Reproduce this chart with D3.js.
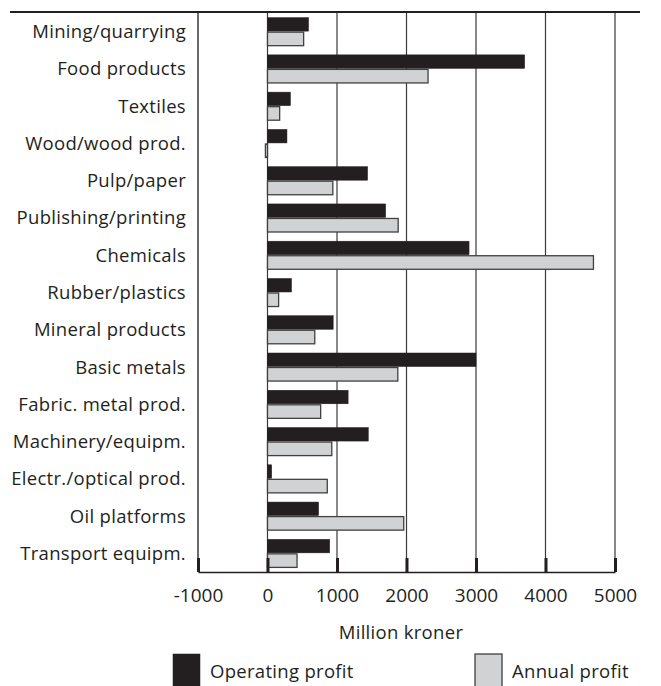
<!DOCTYPE html>
<html>
<head>
<meta charset="utf-8">
<script src="https://cdn.jsdelivr.net/npm/d3@7"></script>
<style>
  body { margin: 0; background: #fff; }
  text { font-family: "Open Sans", sans-serif; fill: #231f20; }
</style>
</head>
<body>
<div id="chart"></div>
<script>
// Chart data
const categories = [
  "Mining/quarrying",
  "Food products",
  "Textiles",
  "Wood/wood prod.",
  "Pulp/paper",
  "Publishing/printing",
  "Chemicals",
  "Rubber/plastics",
  "Mineral products",
  "Basic metals",
  "Fabric. metal prod.",
  "Machinery/equipm.",
  "Electr./optical prod.",
  "Oil platforms",
  "Transport equipm.",
];
const operatingProfit = [590, 3700, 330, 280, 1440, 1700, 2900, 345, 945, 3000, 1160, 1450, 60, 735, 895];
const annualProfit = [520, 2310, 175, -30, 940, 1880, 4690, 160, 680, 1875, 765, 925, 860, 1960, 425];
const seriesNames = ["Operating profit", "Annual profit"];
const xTicks = [-1000, 0, 1000, 2000, 3000, 4000, 5000];

// Plot constants
const W = 661, H = 686;
const PLOT = {LEFT: 198, RIGHT: 615, TOP: 13, BOTTOM: 572};
const COLORS = ["#231f20", "#d1d2d4"];
const FONT = "18.5px";

const svg = d3.select("#chart").append("svg")
  .attr("width", W)
  .attr("height", H);

// Scales
const x = d3.scaleLinear().domain([-1000, 5000]).range([PLOT.LEFT, PLOT.RIGHT]);
const y = d3.scaleBand()
  .domain(categories)
  .range([PLOT.TOP, PLOT.BOTTOM])
  .paddingInner(0.22)
  .paddingOuter(0.11);
const ySub = d3.scaleBand().domain([0, 1]).range([0, y.bandwidth()]);

const rows = categories.map((c, i) => ({cat: c, values: [operatingProfit[i], annualProfit[i]]}));

// top rule
svg.append("line")
  .attr("x1", 10).attr("x2", 640)
  .attr("y1", 12).attr("y2", 12)
  .attr("stroke", "#231f20")
  .attr("stroke-width", 2);

// vertical grid lines
svg.append("g").selectAll("line")
  .data(xTicks)
  .join("line")
  .attr("x1", d => x(d)).attr("x2", d => x(d))
  .attr("y1", PLOT.TOP).attr("y2", PLOT.BOTTOM)
  .attr("stroke", "#3a3a3a")
  .attr("stroke-width", d => d === -1000 ? 1.5 : 1.2);

// bars
const groups = svg.append("g").selectAll("g")
  .data(rows)
  .join("g")
  .attr("transform", d => `translate(0,${y(d.cat)})`);

groups.selectAll("rect")
  .data(d => d.values.map((v, k) => ({v, k})))
  .join("rect")
  .attr("x", d => x(Math.min(0, d.v)))
  .attr("y", d => ySub(d.k) + 0.5)
  .attr("width", d => Math.abs(x(d.v) - x(0)))
  .attr("height", ySub.bandwidth() - 1)
  .attr("fill", d => COLORS[d.k])
  .attr("stroke", d => d.k === 0 ? "#231f20" : "#404040")
  .attr("stroke-width", d => d.k === 0 ? 0.5 : 1.3);

// category labels
svg.append("g").selectAll("text")
  .data(categories)
  .join("text")
  .attr("x", 186)
  .attr("y", d => y(d) + y.bandwidth() / 2)
  .attr("dy", "0.35em")
  .attr("text-anchor", "end")
  .style("font-size", FONT)
  .style("letter-spacing", "0.3px")
  .text(d => d);

// bottom axis
const xAxis = d3.axisBottom(x)
  .tickValues(xTicks)
  .tickSize(0)
  .tickPadding(17)
  .tickFormat(d => String(d));

const axisG = svg.append("g")
  .attr("transform", `translate(0,${PLOT.BOTTOM})`)
  .call(xAxis);
axisG.select(".domain")
  .attr("stroke", "#231f20")
  .attr("stroke-width", 1.5);
axisG.selectAll("text")
  .style("font-size", "19px")
  .style("font-family", "Open Sans, sans-serif")
  .attr("fill", "#231f20");

// thick tick marks sitting on the axis
axisG.selectAll(".tick").append("line")
  .attr("y1", -14).attr("y2", 0)
  .attr("stroke", "#231f20")
  .attr("stroke-width", 3);

// axis title
svg.append("text")
  .attr("x", 401)
  .attr("y", 639)
  .attr("text-anchor", "middle")
  .style("font-size", FONT)
  .style("letter-spacing", "0.3px")
  .text("Million kroner");

// legend
const legendX = [173, 475];
const legend = svg.append("g").selectAll("g")
  .data(seriesNames)
  .join("g")
  .attr("transform", (d, i) => `translate(${legendX[i]},654)`);

legend.append("rect")
  .attr("width", 27)
  .attr("height", 40)
  .attr("fill", (d, i) => COLORS[i])
  .attr("stroke", (d, i) => i === 0 ? "#231f20" : "#404040")
  .attr("stroke-width", (d, i) => i === 0 ? 0.5 : 1.3);

legend.append("text")
  .attr("x", 37)
  .attr("y", 24)
  .style("font-size", FONT)
  .style("letter-spacing", "0.3px")
  .text(d => d);
</script>
</body>
</html>
